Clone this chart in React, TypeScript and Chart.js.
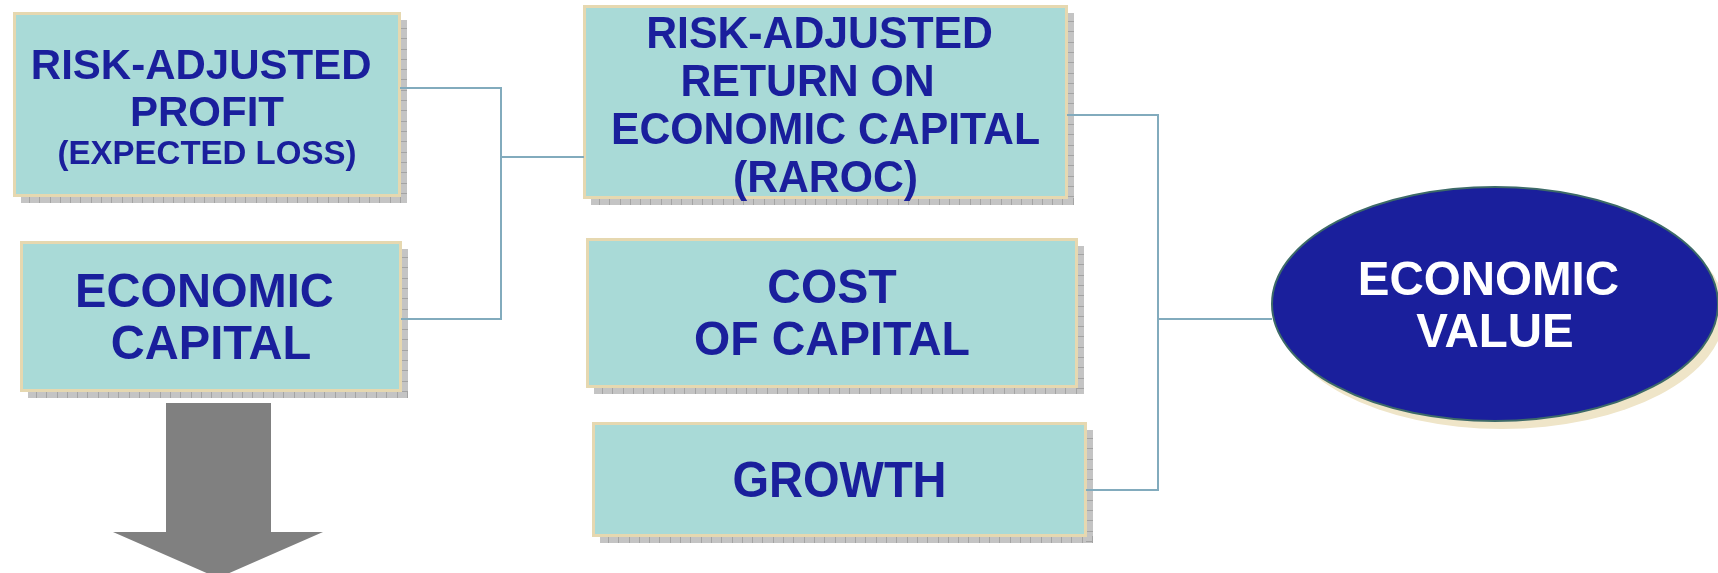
import React, { useEffect, useRef } from "react";
import { Chart, registerables } from "chart.js";
Chart.register(...registerables);

const W = 1718;
const H = 573;

// ---- diagram content ----
const boxLabels: string[][] = [
  ["RISK-ADJUSTED ", "PROFIT", "(EXPECTED LOSS)"],
  ["ECONOMIC ", "CAPITAL"],
  ["RISK-ADJUSTED ", "RETURN ON   ", "ECONOMIC CAPITAL", "(RAROC)"],
  ["COST", "OF CAPITAL"],
  ["GROWTH"],
];
const ellipseLabels: string[] = ["ECONOMIC ", "VALUE"];

// ---- diagram geometry (in scale units) ----
const boxX0 = [14, 21, 584, 587, 593];
const boxY0 = [13, 242, 6, 239, 423];
const boxX1 = [400, 401, 1067, 1077, 1086];
const boxY1 = [196, 391, 198, 387, 536];
const lineCenterY = [[64, 111, 152], [290, 342], [32, 80, 128, 176], [286, 338], [479]];
const lineFont = [[42, 42, 33], [48, 48], [45, 45, 45, 45], [48, 48], [50]];
const boxSqueeze = [1.0, 0.98, 0.95, 0.97, 0.94];

const ellipseCenter = [1495, 304];
const ellipseRadius = [223, 117];
const ellipseLineY = [277.5, 329.5];
const ellipseFont = 49;
const ellipseSqueeze = 0.97;

const arrowX = [166, 271, 271, 323, 218, 113, 166];
const arrowY = [403, 403, 532, 532, 578, 532, 532];

const connectors: { x: number; y: number }[][] = [
  [{ x: 400, y: 88 }, { x: 501, y: 88 }, { x: 501, y: 319 }, { x: 401, y: 319 }],
  [{ x: 501, y: 157 }, { x: 584, y: 157 }],
  [{ x: 1067, y: 115 }, { x: 1158, y: 115 }, { x: 1158, y: 490 }, { x: 1086, y: 490 }],
  [{ x: 1158, y: 319 }, { x: 1272, y: 319 }],
];

const TEXT_BLUE = "#1a1f9c";
const FONT = '"Liberation Sans", Arial, sans-serif';

const diagramPlugin = {
  id: "diagram",
  beforeDatasetsDraw(chart: any) {
    const ctx: CanvasRenderingContext2D = chart.ctx;
    const xs = chart.scales.x;
    const ys = chart.scales.y;
    const px = (v: number) => xs.getPixelForValue(v);
    const py = (v: number) => ys.getPixelForValue(v);
    ctx.save();

    // boxes
    for (let i = 0; i < boxLabels.length; i++) {
      const x0 = px(boxX0[i]);
      const y0 = py(boxY0[i]);
      const x1 = px(boxX1[i]);
      const y1 = py(boxY1[i]);
      const w = x1 - x0;
      const h = y1 - y0;
      // shadow
      const off = 7;
      ctx.fillStyle = "#c4c4c4";
      ctx.fillRect(x0 + off, y0 + off, w, h);
      ctx.strokeStyle = "#a4a4a4";
      ctx.lineWidth = 1;
      ctx.beginPath();
      for (let gx = x0 + off + 8; gx < x1 + off; gx += 10.3) {
        ctx.moveTo(Math.round(gx) + 0.5, y1);
        ctx.lineTo(Math.round(gx) + 0.5, y1 + off);
      }
      for (let gy = y0 + off + 8; gy < y1 + off; gy += 10.3) {
        ctx.moveTo(x1, Math.round(gy) + 0.5);
        ctx.lineTo(x1 + off, Math.round(gy) + 0.5);
      }
      ctx.stroke();
      // box
      ctx.fillStyle = "#a9dad7";
      ctx.fillRect(x0, y0, w, h);
      ctx.strokeStyle = "#e6d8b0";
      ctx.lineWidth = 3;
      ctx.strokeRect(x0 + 0.5, y0 + 0.5, w - 1, h - 1);
      // text
      const cx = (x0 + x1) / 2;
      ctx.fillStyle = TEXT_BLUE;
      ctx.textAlign = "center";
      ctx.textBaseline = "alphabetic";
      boxLabels[i].forEach((t, j) => {
        const fs = lineFont[i][j];
        ctx.font = `bold ${fs}px ${FONT}`;
        const base = py(lineCenterY[i][j]) + (fs * 0.716) / 2;
        ctx.save();
        ctx.translate(cx, base);
        ctx.scale(boxSqueeze[i], 1);
        ctx.fillText(t, 0, 0);
        ctx.restore();
      });
    }

    // arrow
    ctx.fillStyle = "#808080";
    ctx.beginPath();
    arrowX.forEach((x, k) => {
      if (k === 0) ctx.moveTo(px(x), py(arrowY[k]));
      else ctx.lineTo(px(x), py(arrowY[k]));
    });
    ctx.closePath();
    ctx.fill();

    // ellipse
    const ecx = px(ellipseCenter[0]);
    const ecy = py(ellipseCenter[1]);
    const erx = px(ellipseCenter[0] + ellipseRadius[0]) - ecx;
    const ery = py(ellipseCenter[1] + ellipseRadius[1]) - ecy;
    ctx.fillStyle = "#efe5c8";
    ctx.beginPath();
    ctx.ellipse(ecx + 7, ecy + 8, erx, ery, 0, 0, Math.PI * 2);
    ctx.fill();
    ctx.fillStyle = "#1a1f9c";
    ctx.strokeStyle = "#3d6a68";
    ctx.lineWidth = 2;
    ctx.beginPath();
    ctx.ellipse(ecx, ecy, erx, ery, 0, 0, Math.PI * 2);
    ctx.fill();
    ctx.stroke();
    ctx.fillStyle = "#ffffff";
    ctx.font = `bold ${ellipseFont}px ${FONT}`;
    ctx.textAlign = "center";
    ellipseLabels.forEach((t, j) => {
      const base = py(ellipseLineY[j]) + (ellipseFont * 0.716) / 2;
      ctx.save();
      ctx.translate(ecx, base);
      ctx.scale(ellipseSqueeze, 1);
      ctx.fillText(t, 0, 0);
      ctx.restore();
    });

    ctx.restore();
  },
};

export default function App() {
  const ref = useRef<HTMLCanvasElement | null>(null);
  useEffect(() => {
    if (!ref.current) return;
    const chart = new Chart(ref.current, {
      type: "line",
      data: {
        datasets: connectors.map((pts) => ({
          data: pts,
          borderColor: "#82abbd",
          borderWidth: 2,
          pointRadius: 0,
          fill: false,
          tension: 0,
        })),
      },
      options: {
        animation: false,
        responsive: false,
        maintainAspectRatio: false,
        layout: { padding: 0 },
        plugins: { legend: { display: false }, tooltip: { enabled: false }, title: { display: false } },
        scales: {
          x: { type: "linear", min: 0, max: W, display: false },
          y: { type: "linear", min: 0, max: H, reverse: true, display: false },
        },
      },
      plugins: [diagramPlugin],
    } as any);
    return () => chart.destroy();
  }, []);
  return (
    <div style={{ position: "fixed", left: 0, top: 0, width: W, height: H, background: "#ffffff" }}>
      <canvas ref={ref} width={W} height={H} style={{ width: W, height: H, display: "block" }} />
    </div>
  );
}
